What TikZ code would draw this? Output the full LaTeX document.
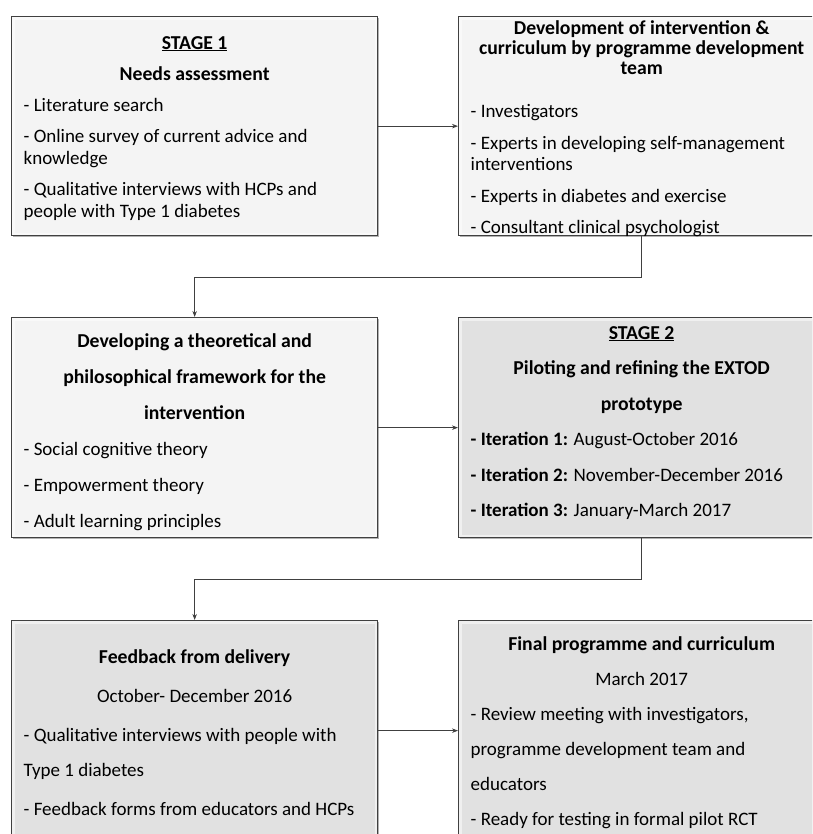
\documentclass[tikz,border=0pt]{standalone}
\usepackage{fontspec}
\setmainfont{Carlito}
\usepackage{xcolor}
\usetikzlibrary{arrows.meta, shadows}
\definecolor{panelA}{HTML}{F4F4F4}
\definecolor{panelB}{HTML}{E1E1E1}
\definecolor{edge}{HTML}{404040}
\tikzset{
    panel/.style={draw=edge, line width=1.3pt, anchor=north west, inner xsep=12pt, inner ysep=0pt,
        drop shadow={shadow xshift=1.5pt, shadow yshift=-1.5pt, opacity=0.3, fill=black},
        path picture={\draw[white, line width=6pt, opacity=0.5]
            (path picture bounding box.south west) rectangle (path picture bounding box.north east);}},
    light/.style={panel, fill=panelA},
    dark/.style={panel, fill=panelB},
    link/.style={draw=edge, line width=1.1pt, -{Stealth[length=6pt, width=4.5pt]}}
}
\newcommand{\panelbody}[2]{\parbox[c][#1pt][t]{342pt}{#2}}

\begin{document}
\begin{tikzpicture}[x=1pt, y=-1pt]
        \clip (0,0) rectangle (812,834);
        \node[light] (needs) at (11,16) {\panelbody{219}{%
            \fontsize{19}{22}\selectfont\setlength{\parskip}{9pt}\vspace*{10.5pt}%
            {\centering\fontsize{19.7}{22}\selectfont\bfseries
                \underline{STAGE 1}\par Needs assessment\par}
            \raggedright
            - Literature search\par
            - Online survey of current advice and\\ knowledge\par
            - Qualitative interviews with HCPs and\\ people with Type 1 diabetes\par}};
        \node[light] (devteam) at (458,16) {\panelbody{219}{%
            \fontsize{19}{22}\selectfont\setlength{\parskip}{9pt}\vspace*{-4.5pt}%
            {\centering\fontsize{19.7}{20}\selectfont\bfseries Development of intervention \&\\
                curriculum by programme development\\ team\par}
            \vspace{12pt}\raggedright
            - Investigators\par
            - Experts in developing self-management\\ interventions\par
            - Experts in diabetes and exercise\par
            - Consultant clinical psychologist\par}};
        \node[light] (theory) at (11,317) {\panelbody{220}{%
            \fontsize{19}{36}\selectfont\vspace*{15.5pt}%
            {\centering\fontsize{19.7}{36}\selectfont\bfseries Developing a theoretical and\\
                philosophical framework for the\\ intervention\par}
            \raggedright
            - Social cognitive theory\par
            - Empowerment theory\par
            - Adult learning principles\par}};
        \node[dark] (pilot) at (458,317) {\panelbody{220}{%
            \fontsize{19}{35.5}\selectfont\vspace*{8.5pt}%
            {\centering\fontsize{19.7}{35.5}\selectfont\bfseries
                \underline{STAGE 2}\par Piloting and refining the EXTOD\\ prototype\par}
            \raggedright
            \textbf{- Iteration 1:} August-October 2016\par
            \textbf{- Iteration 2:} November-December 2016\par
            \textbf{- Iteration 3:} January-March 2017\par}};
        \node[dark] (feedback) at (11,620) {\panelbody{220}{%
            \fontsize{19}{35}\selectfont\setlength{\parskip}{4pt}\vspace*{25.5pt}%
            {\centering{\fontsize{19.7}{35}\selectfont\bfseries Feedback from delivery\par}
                October- December 2016\par}
            \raggedright
            - Qualitative interviews with people with\\ Type 1 diabetes\par
            - Feedback forms from educators and HCPs\par}};
        \node[dark] (final) at (458,620) {\panelbody{220}{%
            \fontsize{19}{35}\selectfont\vspace*{16.5pt}%
            {\centering{\fontsize{19.7}{35}\selectfont\bfseries Final programme and curriculum\par}
                March 2017\par}
            \raggedright
            - Review meeting with investigators,\\ programme development team and\\ educators\par
            - Ready for testing in formal pilot RCT\par}};

        \draw[link] (needs) -- (devteam);
        \draw[link] (devteam.south) -- ++(0,41) -| (theory.north);
        \draw[link] (theory) -- (pilot);
        \draw[link] (pilot.south) -- ++(0,41) -| (feedback.north);
        \draw[link] (feedback) -- (final);
    \end{tikzpicture}
\end{document}
